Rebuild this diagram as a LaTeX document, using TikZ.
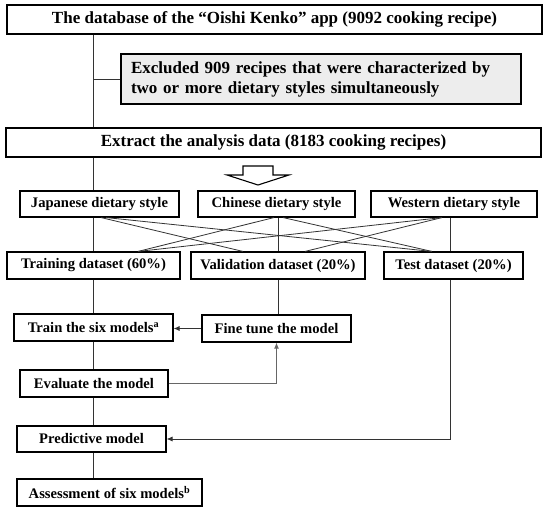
\documentclass[tikz,border=0pt]{standalone}
\usepackage{fontspec}
\setmainfont{Liberation Serif}
\usetikzlibrary{arrows.meta}
\tikzset{
  box/.style={draw=black, line width=1.1pt, inner sep=0pt, align=center, font=\bfseries\fontsize{14.6}{17}\selectfont},
  bigbox/.style={box, font=\bfseries\fontsize{17}{20}\selectfont},
  conn/.style={draw=black!80, line width=0.8pt},
  arr/.style={conn, -{Latex[length=6pt,width=5pt]}},
}
\begin{document}
\begin{tikzpicture}[x=1pt,y=-1pt]
\useasboundingbox (0,0) rectangle (550,511);
% nodes
\node[bigbox, minimum width=535pt, minimum height=29pt] (db) at (274.5,19.5) {The database of the “Oishi Kenko” app (9092 cooking recipe)};
\node[bigbox, fill=black!7, align=left, text width=380pt, minimum width=400pt, minimum height=50pt] (excl) at (321,79) {Excluded 909 recipes that were characterized by\\two or more dietary styles simultaneously};
\node[bigbox, minimum width=535pt, minimum height=29pt] (ext) at (273.5,142.5) {Extract the analysis data (8183 cooking recipes)};
\node[box, minimum width=159pt, minimum height=26pt] (jap) at (99.5,204) {Japanese dietary style};
\node[box, minimum width=157pt, minimum height=26pt] (chi) at (276.5,204) {Chinese dietary style};
\node[box, minimum width=166pt, minimum height=26pt] (wes) at (454,204) {Western dietary style};
\node[box, minimum width=173pt, minimum height=27pt] (trd) at (93.5,265.5) {Training dataset (60\%)};
\node[box, minimum width=174pt, minimum height=27pt] (val) at (278,265.5) {Validation dataset (20\%)};
\node[box, minimum width=139pt, minimum height=27pt] (test) at (453.5,265.5) {Test dataset (20\%)};
\node[box, minimum width=159pt, minimum height=27pt] (train) at (93.5,327.5) {Train the six models\textsuperscript{a}};
\node[box, minimum width=149pt, minimum height=27pt] (fine) at (276.5,328.5) {Fine tune the model};
\node[box, minimum width=148pt, minimum height=27pt] (eval) at (94,383.5) {Evaluate the model};
\node[box, minimum width=149pt, minimum height=26pt] (pred) at (91.5,439) {Predictive model};
\node[box, minimum width=185pt, minimum height=27pt] (assess) at (109.5,492.5) {Assessment of six models\textsuperscript{b}};
\coordinate (sp) at (93,0);
\coordinate (cx) at (278,0);
\coordinate (tx) at (450,0);
% spine
\draw[conn] (db.south -| sp) -- (ext.north -| sp);
\draw[conn] (sp |- excl.west) -- (excl.west);
\draw[conn] (ext.south -| sp) -- (jap.north -| sp);
% hollow arrow
\draw[line width=1.1pt, fill=white, line join=miter] (243,166) -- (273,166) -- (273,175) -- (289,175) -- (258,185) -- (227,175) -- (243,175) -- cycle;
% verticals
\draw[conn] (jap.south -| sp) -- (trd.north -| sp);
\draw[conn] (chi.south -| cx) -- (val.north -| cx);
\draw[conn] (wes.south -| tx) -- (test.north -| tx);
% crossings
\draw[conn] ([xshift=1.5pt]jap.south) -- ([xshift=-35pt]val.north);
\draw[conn] ([xshift=6.5pt]jap.south) -- ([xshift=-21.5pt]test.north);
\draw[conn] ([xshift=-2.5pt]chi.south) -- ([xshift=44.5pt]trd.north);
\draw[conn] ([xshift=6.5pt]chi.south) -- ([xshift=-21.5pt]test.north);
\draw[conn] ([xshift=-12pt]wes.south) -- ([xshift=44.5pt]trd.north);
\draw[conn] ([xshift=-12pt]wes.south) -- ([xshift=27pt]val.north);
% lower
\draw[conn] (trd.south -| sp) -- (train.north -| sp);
\draw[conn] (val.south -| cx) -- (fine.north -| cx);
\draw[arr] (fine.west) -- (train.east |- fine.west);
\draw[conn] (train.south -| sp) -- (eval.north -| sp);
\draw[arr, draw=black!60, line width=1.1pt] (eval.east) -| (fine.south);
\draw[conn] (eval.south -| sp) -- (pred.north -| sp);
\draw[arr] (test.south -| tx) |- (pred.east);
\draw[conn] (pred.south -| sp) -- (assess.north -| sp);
\end{tikzpicture}
\end{document}
